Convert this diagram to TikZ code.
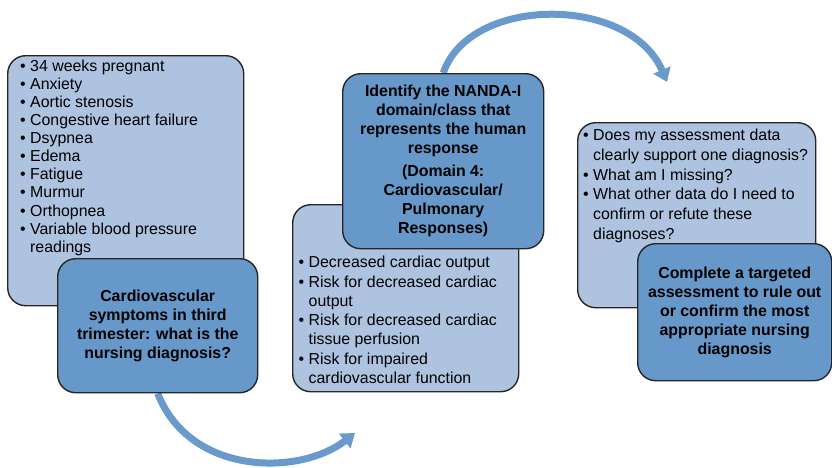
\documentclass[tikz,border=0pt]{standalone}
\usepackage{fontspec}
\setmainfont{Liberation Sans}
\usetikzlibrary{positioning,arrows.meta,backgrounds}
\definecolor{paleblue}{HTML}{ADC3E0}
\definecolor{midblue}{HTML}{6798CA}
\definecolor{arcblue}{HTML}{6A9ACB}

\begin{document}
\begin{tikzpicture}[x=1pt, y=-1pt, node distance=0.3cm,
	every node/.style={inner sep=0pt},
	box/.style={draw=black!85, line width=1.4pt, rounded corners=18pt, anchor=north west},
	facts/.style={box, fill=paleblue},
	prompt/.style={box, fill=midblue, align=center,
		font=\bfseries\fontsize{15.9}{19}\selectfont},
	items/.style={anchor=north west, align=left, font=\fontsize{15.9}{#1}\selectfont},
	items/.default=18.1,
	flow/.style={draw=arcblue, line width=7pt, -{Triangle[length=13pt,width=18pt]}}
	]
	\useasboundingbox (0,0) rectangle (832,467);

	\node[facts, minimum width=236pt, minimum height=250pt] (l1) at (7,55) {};
	\node[items, below right=4.5pt and 13pt of l1.north west] (l1txt)
	{\textbullet\ 34 weeks pregnant\\
	 \textbullet\ Anxiety\\
	 \textbullet\ Aortic stenosis\\
	 \textbullet\ Congestive heart failure\\
	 \textbullet\ Dsypnea\\
	 \textbullet\ Edema\\
	 \textbullet\ Fatigue\\
	 \textbullet\ Murmur\\
	 \textbullet\ Orthopnea\\
	 \textbullet\ Variable blood pressure\\
	 \phantom{\textbullet}\ readings};
	\node[prompt, minimum width=200pt, minimum height=134pt] (d1) at (57,258)
	{Cardiovascular\\symptoms in third\\trimester: what is the\\nursing diagnosis?};

	\node[facts, minimum width=226pt, minimum height=187pt] (l2) at (292,204) {};
	\node[items=19.3, below right=52pt and 6.5pt of l2.north west] (l2txt)
	{\textbullet\ Decreased cardiac output\\
	 \textbullet\ Risk for decreased cardiac\\
	 \phantom{\textbullet}\ output\\
	 \textbullet\ Risk for decreased cardiac\\
	 \phantom{\textbullet}\ tissue perfusion\\
	 \textbullet\ Risk for impaired\\
	 \phantom{\textbullet}\ cardiovascular function};
	\node[prompt, minimum width=201pt, minimum height=175pt] (d2) at (342,73)
	{Identify the NANDA-I\\domain/class that\\represents the human\\response\\[4pt]
	 (Domain 4:\\Cardiovascular/\\Pulmonary\\Responses)};

	\node[facts, minimum width=238pt, minimum height=185pt] (l3) at (577,122) {};
	\node[items=19.7, below right=7pt and 6pt of l3.north west] (l3txt)
	{\textbullet\ Does my assessment data\\
	 \phantom{\textbullet}\ clearly support one diagnosis?\\
	 \textbullet\ What am I missing?\\
	 \textbullet\ What other data do I need to\\
	 \phantom{\textbullet}\ confirm or refute these\\
	 \phantom{\textbullet}\ diagnoses?};
	\node[prompt, minimum width=194pt, minimum height=137pt] (d3) at (637,243)
	{Complete a targeted\\assessment to rule out\\or confirm the most\\appropriate nursing\\diagnosis};

	% arcs between the steps
	\coordinate (tip1) at (355,433);
	\coordinate (tip2) at (667,82);
	\begin{scope}[on background layer]
		\draw[flow] (d1.south) .. controls (190,476) and (300,476) .. (tip1);
		\draw[flow] (d2.north) .. controls (470,-5) and (630,-5) .. (tip2);
	\end{scope}
\end{tikzpicture}
\end{document}
